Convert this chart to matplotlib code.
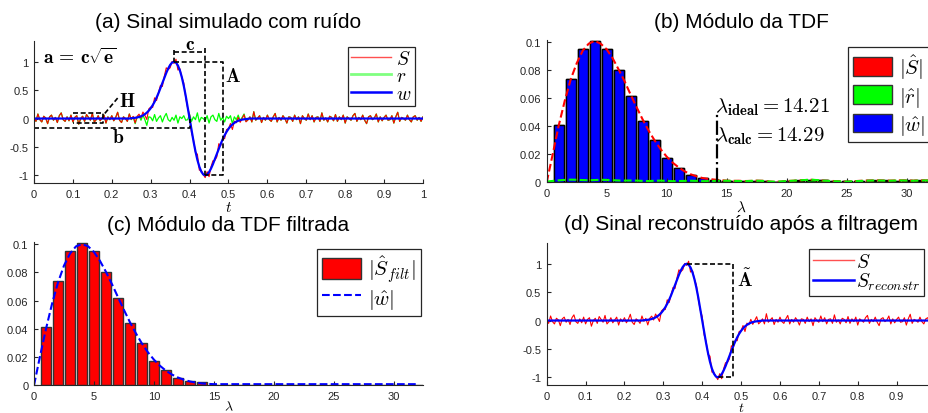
import numpy as np
import matplotlib
matplotlib.use('Agg')
import matplotlib.pyplot as plt
from matplotlib.patches import Patch
from matplotlib.lines import Line2D
from matplotlib.ticker import FuncFormatter

plt.rcParams['font.family'] = ['Liberation Sans', 'DejaVu Sans']
plt.rcParams['mathtext.fontset'] = 'cm'

# ---- time signal, sampled every 0.005 on [0, 1] ----
t = np.arange(201) * 0.005

# clean pulse w, read on t = 0.25 ... 0.55 (zero elsewhere)
w_pulse = [0.0055, 0.0084, 0.0126, 0.0187, 0.0273, 0.0390, 0.0549, 0.0760, 0.1034, 0.1381,
           0.1811, 0.2333, 0.2951, 0.3665, 0.4463, 0.5330, 0.6240, 0.7155, 0.8029, 0.8809,
           0.9435, 0.9851, 1.0000, 0.9838, 0.9334, 0.8476, 0.7275, 0.5763, 0.3995, 0.2045,
           0.0,
           -0.2045, -0.3995, -0.5763, -0.7275, -0.8476, -0.9334, -0.9838, -1.0000, -0.9851, -0.9435,
           -0.8809, -0.8029, -0.7155, -0.6240, -0.5330, -0.4463, -0.3665, -0.2951, -0.2333, -0.1811,
           -0.1381, -0.1034, -0.0760, -0.0549, -0.0390, -0.0273, -0.0187, -0.0126, -0.0084, -0.0055]

# noise r, in hundredths
noise_pct = [3, -5, 8, -2, -6, 4, 1, -9, 3, 6, -3, 2, -7, 5, 10, -2, -5, 3, -4, 6,
             -6, 2, 5, -10, 0, 4, -5, 7, 2, -3, 9, -6, -2, 5, -4, 1, 6, -8, 3, -2,
             5, -4, 2, 11, -3, -7, 3, 0, -5, 8, -2, 3, -9, 2, 5, -3, 6, -2, -12, 3,
             2, -4, 7, -5, 1, 5, -6, 3, 9, -2, -5, 2, -3, 6, -8, 3, 0, 5, -3, -2,
             7, -5, 3, -2, 10, -6, 2, 0, -4, 5, -8, 3, 6, -2, -5, 9, -3, 2, -6, 4,
             0, 5, -9, 3, -2, 6, -4, 2, 8, -5, -2, 3, -6, 12, -3, 1, 5, -7, 2, -3,
             6, -2, -5, 3, 9, -6, 2, -3, 5, 0, -8, 3, 2, -5, 6, -2, 3, -9, 5, 0,
             -3, 8, -2, 5, -6, 2, 3, -5, 10, -3, 1, -6, 4, 2, -4, 7, -5, 3, -2, 6,
             -8, 3, 0, -3, 5, 9, -5, 2, -2, 6, -3, -9, 3, 5, -2, 1, 8, -6, 3, -4,
             2, 6, -3, -2, 5, -8, 3, 11, -5, 2, 0, -3, 6, -2, -6, 3, 5, -3, 2, -5,
             3]

w = np.zeros(201)
w[50:111] = w_pulse
r = np.array(noise_pct) / 100.0
S = w + r
S_reconstr = w

# ---- spectra ----
lam_bars = np.arange(1, 33)
w_hat_bars = [0.041, 0.074, 0.095, 0.101, 0.095, 0.080, 0.062, 0.044, 0.030, 0.0175,
              0.0105, 0.0055, 0.0032, 0.0020, 0.0006, 0.0004, 0.0003, 0.0003, 0.0002, 0.0002,
              0.0002, 0.0002, 0.0002, 0.0002, 0.0002, 0.0002, 0.0002, 0.0002, 0.0002, 0.0002,
              0.0002, 0.0002]
S_hat_bars = [0.041, 0.074, 0.095, 0.101, 0.095, 0.080, 0.062, 0.044, 0.030, 0.0175,
              0.0105, 0.0055, 0.0032, 0.0020, 0.0012, 0.0010, 0.0011, 0.0012, 0.0005, 0.0009,
              0.0013, 0.0017, 0.0014, 0.0010, 0.0006, 0.0011, 0.0013, 0.0014, 0.0012, 0.0013,
              0.0014, 0.0013]
r_hat_bars = [0.0015, 0.0018, 0.0017, 0.0016, 0.0017, 0.0014, 0.0013, 0.0011, 0.0011, 0.0010,
              0.0009, 0.0011, 0.0009, 0.0010, 0.0010, 0.0009, 0.0010, 0.0011, 0.0005, 0.0008,
              0.0011, 0.0018, 0.0015, 0.0010, 0.0006, 0.0009, 0.0012, 0.0012, 0.0011, 0.0012,
              0.0012, 0.0012]
S_filt_bars = [0.041, 0.074, 0.095, 0.101, 0.095, 0.080, 0.062, 0.044, 0.030, 0.0175,
               0.0105, 0.0055, 0.0032, 0.0020, 0, 0, 0, 0, 0, 0,
               0, 0, 0, 0, 0, 0, 0, 0, 0, 0, 0, 0]

lam_curve = np.arange(65) * 0.5
w_hat_curve = [0, 0.0205, 0.0400, 0.0576, 0.0728, 0.0848, 0.0933, 0.0984, 0.1000, 0.0985,
               0.0944, 0.0881, 0.0803, 0.0716, 0.0624, 0.0533, 0.0446, 0.0367, 0.0295, 0.0233,
               0.0181, 0.0138, 0.0103, 0.0076, 0.0055, 0.0039, 0.0027, 0.0019, 0.0013, 0.0010,
               0.0008, 0.0008, 0.0008, 0.0008, 0.0008, 0.0008, 0.0008, 0.0008, 0.0008, 0.0008,
               0.0008, 0.0008, 0.0008, 0.0008, 0.0008, 0.0008, 0.0008, 0.0008, 0.0008, 0.0008,
               0.0008, 0.0008, 0.0008, 0.0008, 0.0008, 0.0008, 0.0008, 0.0008, 0.0008, 0.0008,
               0.0008, 0.0008, 0.0008, 0.0008, 0.0008]
S_hat_curve = [0, 0.0200, 0.0405, 0.0580, 0.0735, 0.0850, 0.0940, 0.0990, 0.1010, 0.0990,
               0.0950, 0.0885, 0.0805, 0.0720, 0.0625, 0.0535, 0.0448, 0.0368, 0.0298, 0.0236,
               0.0183, 0.0140, 0.0106, 0.0078, 0.0057, 0.0042, 0.0030, 0.0024, 0.0019, 0.0015,
               0.0012, 0.0010, 0.0011, 0.0009, 0.0010, 0.0012, 0.0011, 0.0006, 0.0003, 0.0005,
               0.0009, 0.0011, 0.0013, 0.0016, 0.0018, 0.0015, 0.0012, 0.0010, 0.0009, 0.0006,
               0.0004, 0.0007, 0.0010, 0.0012, 0.0013, 0.0014, 0.0013, 0.0012, 0.0013, 0.0014,
               0.0013, 0.0012, 0.0013, 0.0014, 0.0013]
r_hat_curve = [0.0005, 0.0010, 0.0014, 0.0017, 0.0019, 0.0018, 0.0016, 0.0015, 0.0016, 0.0018,
               0.0017, 0.0015, 0.0013, 0.0012, 0.0013, 0.0012, 0.0010, 0.0009, 0.0011, 0.0012,
               0.0010, 0.0008, 0.0009, 0.0010, 0.0011, 0.0010, 0.0008, 0.0009, 0.0010, 0.0011,
               0.0011, 0.0010, 0.0009, 0.0008, 0.0010, 0.0011, 0.0010, 0.0006, 0.0004, 0.0006,
               0.0009, 0.0011, 0.0013, 0.0016, 0.0019, 0.0016, 0.0012, 0.0010, 0.0008, 0.0006,
               0.0005, 0.0007, 0.0009, 0.0011, 0.0012, 0.0013, 0.0012, 0.0011, 0.0012, 0.0013,
               0.0012, 0.0011, 0.0012, 0.0013, 0.0012]

lam_ideal = 14.21
lam_calc = 14.29

TXT = '#262626'
fmt = FuncFormatter(lambda v, p: '%g' % v)
dash = dict(color='black', linestyle='--', dashes=(3, 1.6), linewidth=1.2)


def style(ax):
    ax.spines['top'].set_visible(False)
    ax.spines['right'].set_visible(False)
    for s in ('left', 'bottom'):
        ax.spines[s].set_color(TXT)
        ax.spines[s].set_linewidth(0.8)
    ax.tick_params(direction='in', length=3, width=0.8, labelsize=8,
                   colors=TXT, top=False, right=False, pad=4)
    ax.xaxis.set_major_formatter(fmt)
    ax.yaxis.set_major_formatter(fmt)


def leg(ax, handles, labels, x, y, size, **kw):
    lg = ax.legend(handles, labels, loc='upper left', bbox_to_anchor=(x, y),
                   bbox_transform=fig.transFigure, borderaxespad=0, fancybox=False,
                   framealpha=1, edgecolor=TXT, fontsize=size, **kw)
    lg.get_frame().set_linewidth(0.9)
    return lg


fig = plt.figure(figsize=(9.29, 4.14), dpi=100)
W, H = 929.0, 414.0
TS = 15

# ---------- (a) ----------
ax = fig.add_axes([34 / W, 1 - 184.3 / H, 389 / W, 142.6 / H])
style(ax)
ax.plot(t, r, color='#00ff00', linewidth=0.9)
ax.plot(t, S, color='#ff0000', linewidth=0.8)
ax.plot(t, w, color='#0000ff', linewidth=1.6)
ax.set_xlim(0, 1)
ax.set_ylim(-1.14, 1.37)
ax.set_xticks(np.arange(0, 1.01, 0.1))
ax.set_yticks([-1, -0.5, 0, 0.5, 1])
ax.set_xlabel(r'$t$', fontsize=11, labelpad=1)
# annotations
ax.plot([0.36, 0.44], [1.165, 1.165], **dash)
ax.plot([0.36, 0.36], [1.21, 1.0], **dash)
ax.plot([0.44, 0.44], [1.235, -1.0], **dash)
ax.plot([0.36, 0.485, 0.485, 0.44], [1.0, 1.0, -1.0, -1.0], **dash)
ax.plot([0, 0.40, 0.40], [-0.16, -0.16, 0.0], **dash)
ax.plot([0.1, 0.178, 0.178, 0.1], [0.1, 0.1, -0.075, -0.075], **dash)
ax.plot([0.182, 0.215], [0.09, 0.36], **dash)
ax.text(0.022, 1.09, r'$\mathbf{a}\, =\, \mathbf{c}\sqrt{\mathbf{e}}$', fontsize=14, va='center')
ax.text(0.40, 1.30, r'$\mathbf{c}$', fontsize=14, ha='center', va='center')
ax.text(0.511, 0.74, r'$\mathbf{A}$', fontsize=14, ha='center', va='center')
ax.text(0.24, 0.31, r'$\mathbf{H}$', fontsize=14, ha='center', va='center')
ax.text(0.215, -0.32, r'$\mathbf{b}$', fontsize=14, ha='center', va='center')
hs = [Line2D([], [], color='#ff5050', lw=1), Line2D([], [], color='#80ff80', lw=2),
      Line2D([], [], color='#0000ff', lw=1.8)]
leg(ax, hs, [r'$S$', r'$r$', r'$w$'], 347.7 / W, 1 - 47.7 / H, 14,
    handlelength=2.1, handletextpad=0.25, labelspacing=0.0, borderpad=0.15)
fig.text(228.5 / W, 1 - 23 / H, '(a) Sinal simulado com ruído', fontsize=TS,
         ha='center', va='center')

# ---------- (b) ----------
ax = fig.add_axes([546.7 / W, 1 - 183.3 / H, 388.8 / W, 142.8 / H])
style(ax)
ax.bar(lam_bars, S_hat_bars, width=0.8, color='#ff0000', edgecolor='black', linewidth=1)
ax.bar(lam_bars, r_hat_bars, width=0.8, color='#00ff00', edgecolor='black', linewidth=1)
ax.bar(lam_bars, w_hat_bars, width=0.8, color='#0000ff', edgecolor='black', linewidth=1)
ax.plot(lam_curve, S_hat_curve, color='#ff0000', linestyle='--', linewidth=1.5)
ax.plot(lam_curve, r_hat_curve, color='#00ff00', linestyle='--', linewidth=1.5)
ax.plot([lam_ideal, lam_ideal], [0, 0.05], color='black', linestyle='-.', linewidth=1.6)
ax.text(14.05, 0.0505, r'$\lambda_{\mathbf{ideal}} = %.2f$' % lam_ideal, fontsize=15, va='baseline')
ax.text(14.05, 0.0298, r'$\lambda_{\mathbf{calc}} = %.2f$' % lam_calc, fontsize=15, va='baseline')
ax.set_xlim(0, 32.4)
ax.set_ylim(0, 0.102)
ax.set_xticks([0, 5, 10, 15, 20, 25, 30])
ax.set_yticks([0, 0.02, 0.04, 0.06, 0.08, 0.1])
ax.set_xlabel(r'$\lambda$', fontsize=11, labelpad=1)
hs = [Patch(facecolor='#ff0000', edgecolor='#333333'), Patch(facecolor='#00ff00', edgecolor='#333333'),
      Patch(facecolor='#0000ff', edgecolor='#333333')]
leg(ax, hs, [r'$|\hat{S}|$', r'$|\hat{r}|$', r'$|\hat{w}|$'], 847.7 / W, 1 - 47.7 / H, 15,
    handlelength=1.9, handleheight=1.0, handletextpad=0.3, labelspacing=0.2, borderpad=0.25)
fig.text(741 / W, 1 - 23 / H, '(b) Módulo da TDF', fontsize=TS, ha='center', va='center')

# ---------- (c) ----------
ax = fig.add_axes([34 / W, 1 - 386.3 / H, 388.8 / W, 143.3 / H])
style(ax)
ax.bar(lam_bars, S_filt_bars, width=0.8, color='#ff0000', edgecolor='#333333', linewidth=1)
ax.plot(lam_curve, w_hat_curve, color='#0000ff', linestyle='--', linewidth=1.5)
ax.set_xlim(0, 32.4)
ax.set_ylim(0, 0.1015)
ax.set_xticks([0, 5, 10, 15, 20, 25, 30])
ax.set_yticks([0, 0.02, 0.04, 0.06, 0.08, 0.1])
ax.set_xlabel(r'$\lambda$', fontsize=10, labelpad=-1)
hs = [Patch(facecolor='#ff0000', edgecolor='#333333'),
      Line2D([], [], color='#0000ff', linestyle='--', lw=1.5)]
leg(ax, hs, [r'$|\hat{S}_{filt}|$', r'$|\hat{w}|$'], 316.7 / W, 1 - 249.7 / H, 15,
    handlelength=1.9, handleheight=1.15, handletextpad=0.3, labelspacing=0.1, borderpad=0.25)
fig.text(228.5 / W, 1 - 225.3 / H, '(c) Módulo da TDF filtrada', fontsize=TS,
         ha='center', va='center')

# ---------- (d) ----------
ax = fig.add_axes([546.7 / W, 1 - 386.3 / H, 388.8 / W, 142.6 / H])
style(ax)
ax.plot(t, S, color='#ff0000', linewidth=0.8)
ax.plot(t, S_reconstr, color='#0000ff', linewidth=1.6)
ax.plot([0.36, 0.48, 0.48, 0.44], [1.0, 1.0, -1.0, -1.0], **dash)
ax.text(0.51, 0.73, r'$\tilde{\mathbf{A}}$', fontsize=14, ha='center', va='center')
ax.set_xlim(0, 1)
ax.set_ylim(-1.14, 1.37)
ax.set_xticks(np.arange(0, 0.95, 0.1))
ax.set_yticks([-1, -0.5, 0, 0.5, 1])
ax.set_xlabel(r'$t$', fontsize=10, labelpad=-0.5)
hs = [Line2D([], [], color='#ff5050', lw=1), Line2D([], [], color='#0000ff', lw=1.8)]
leg(ax, hs, [r'$S$', r'$S_{reconstr}$'], 809 / W, 1 - 249.7 / H, 14,
    handlelength=2.1, handletextpad=0.1, labelspacing=0.0, borderpad=0.2)
fig.text(741 / W, 1 - 225 / H, '(d) Sinal reconstruído após a filtragem', fontsize=TS,
         ha='center', va='center')

fig.savefig('out.png', dpi=100)
